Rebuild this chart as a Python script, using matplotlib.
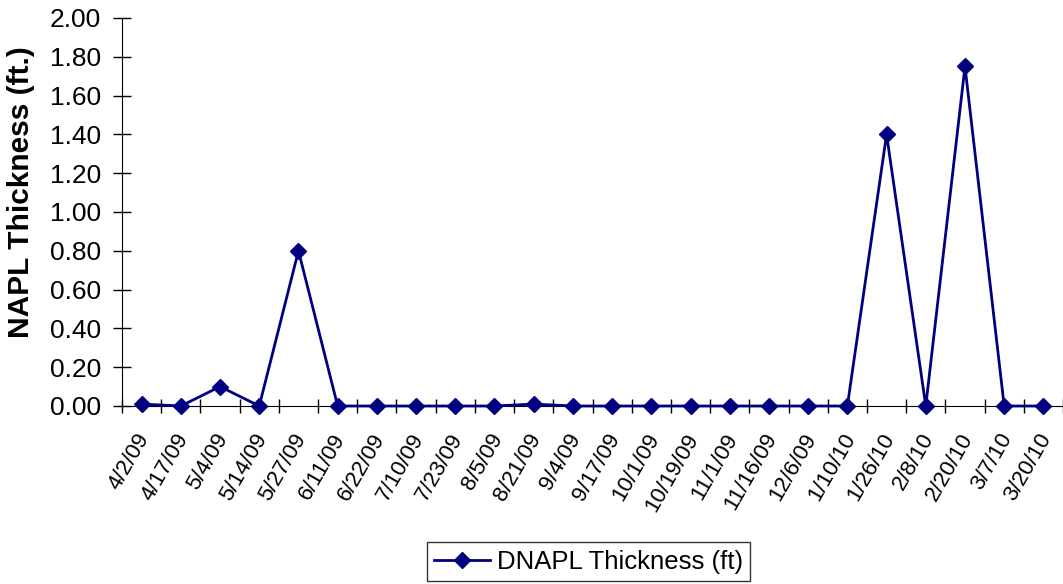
import matplotlib
matplotlib.use("Agg")
import matplotlib.pyplot as plt
import matplotlib.transforms as mtransforms
from matplotlib.ticker import FixedLocator, FormatStrFormatter

plt.rcParams['font.family'] = ['Liberation Sans', 'DejaVu Sans']

dates = ["4/2/09", "4/17/09", "5/4/09", "5/14/09", "5/27/09", "6/11/09", "6/22/09",
         "7/10/09", "7/23/09", "8/5/09", "8/21/09", "9/4/09", "9/17/09", "10/1/09",
         "10/19/09", "11/1/09", "11/16/09", "12/6/09", "1/10/10", "1/26/10", "2/8/10",
         "2/20/10", "3/7/10", "3/20/10"]
thickness = [0.01, 0.0, 0.10, 0.0, 0.80, 0.0, 0.0, 0.0, 0.0, 0.0, 0.01, 0.0, 0.0, 0.0,
             0.0, 0.0, 0.0, 0.0, 0.0, 1.40, 0.0, 1.75, 0.0, 0.0]
series_name = "DNAPL Thickness (ft)"
y_label = "NAPL Thickness (ft.)"

fig = plt.figure(figsize=(10.63, 5.84), dpi=100)
ax = fig.add_axes([0.1148, 0.3048, 0.8852, 0.6644])

x = list(range(len(dates)))
ax.plot(x, thickness, color="#000080", marker="D", markersize=8, linewidth=2,
        label=series_name, clip_on=False, zorder=3)

ax.set_xlim(-0.5, len(dates) - 0.5)
ax.set_ylim(0, 2.0)
ax.set_yticks([i * 0.2 for i in range(11)])
ax.yaxis.set_major_formatter(FormatStrFormatter("%.2f"))

ax.set_xticks(x)
ax.set_xticklabels(dates, rotation=60, ha="right", rotation_mode="anchor", fontsize=16)
ax.tick_params(axis="x", which="major", length=0, pad=17)
shift = mtransforms.ScaledTranslation(-6 / 100, 0, fig.dpi_scale_trans)
for lbl in ax.get_xticklabels():
    lbl.set_transform(lbl.get_transform() + shift)
# category boundary ticks (crossing)
ax.xaxis.set_minor_locator(FixedLocator([i - 0.5 for i in range(len(dates) + 1)]))
ax.tick_params(axis="x", which="minor", direction="inout", length=9.5, width=1, color="#000000")
ax.tick_params(axis="y", direction="inout", length=12.5, width=1, labelsize=19, pad=9)

for s in ["top", "right"]:
    ax.spines[s].set_visible(False)
ax.spines["left"].set_color("#000000")
ax.spines["bottom"].set_color("#000000")

ax.set_ylabel(y_label, fontsize=21.5, fontweight="bold")
ax.yaxis.set_label_coords(-0.0925, 0.552)

leg = fig.legend(loc="lower center", bbox_to_anchor=(0.5536, 0.0), fontsize=18.5,
                 frameon=True, fancybox=False, edgecolor="#000000", handlelength=2.15,
                 borderpad=0.3, handletextpad=0.27, borderaxespad=0.1)
leg.get_frame().set_linewidth(1)

fig.savefig("out.png", dpi=100)
